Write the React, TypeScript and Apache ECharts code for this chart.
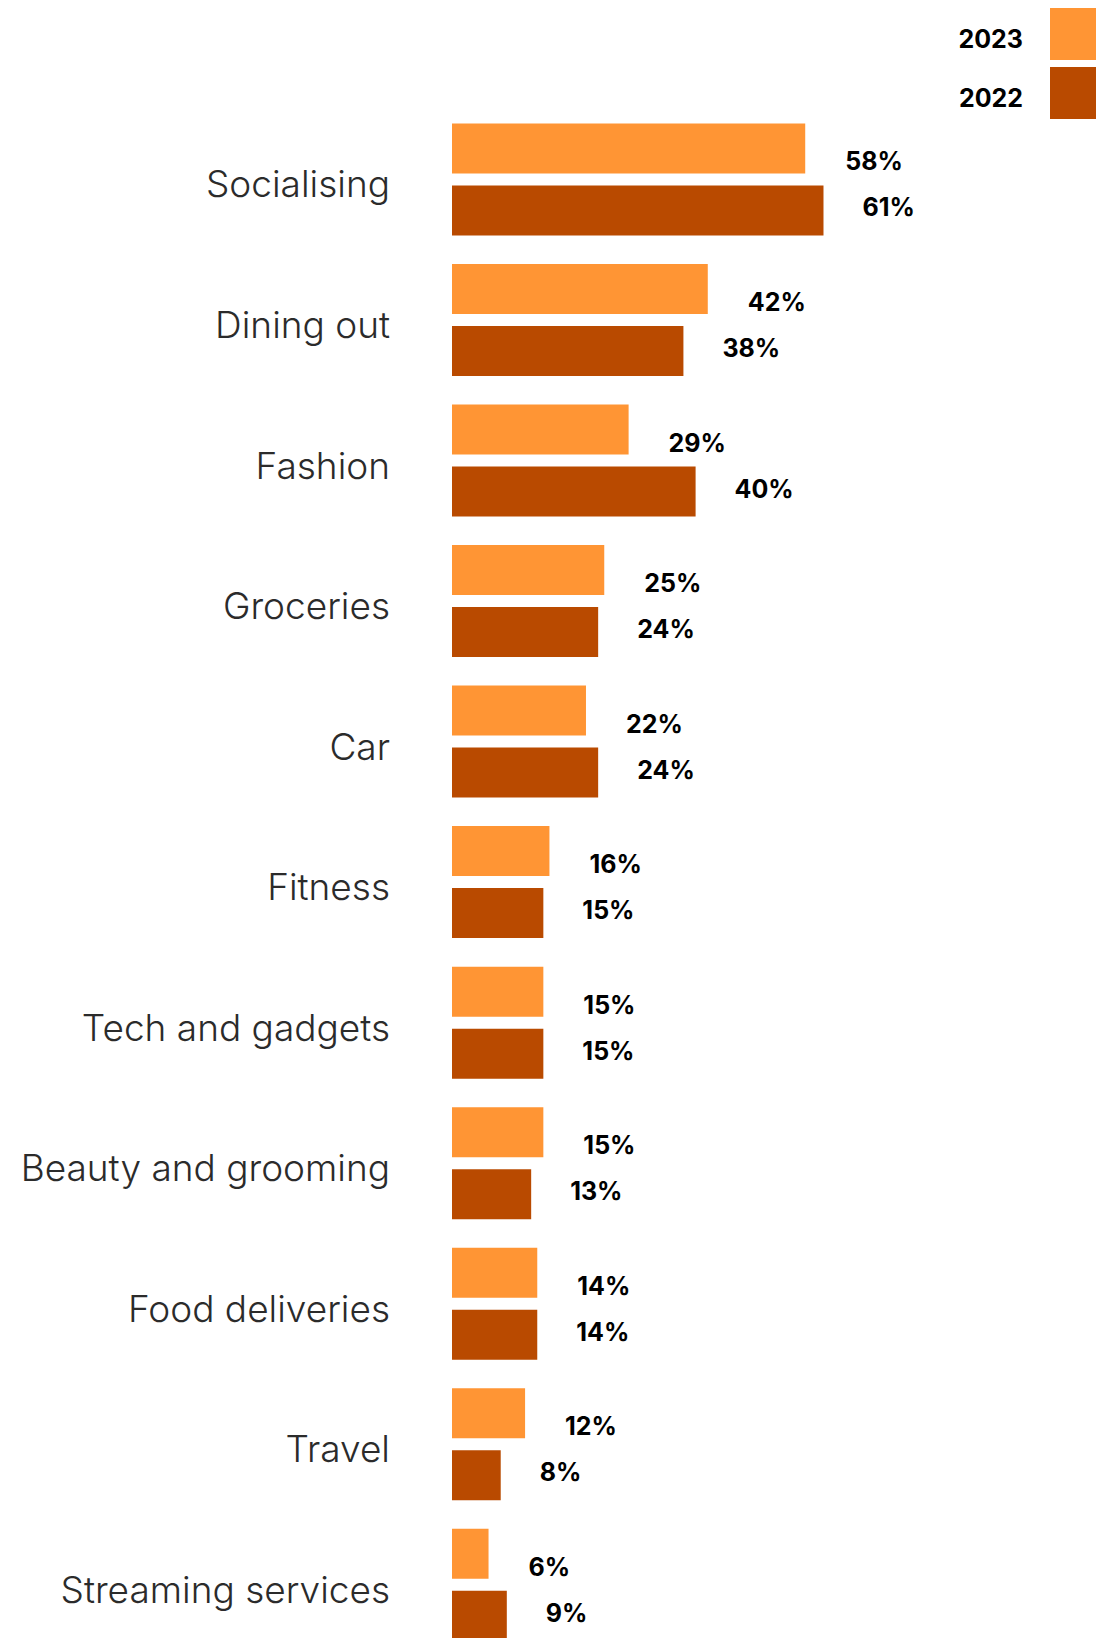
import React, { useEffect, useRef } from "react";
import * as echarts from "echarts";

const categories = [
  "Socialising",
  "Dining out",
  "Fashion",
  "Groceries",
  "Car",
  "Fitness",
  "Tech and gadgets",
  "Beauty and grooming",
  "Food deliveries",
  "Travel",
  "Streaming services",
];
const values2023 = [58, 42, 29, 25, 22, 16, 15, 15, 14, 12, 6];
const values2022 = [61, 38, 40, 24, 24, 15, 15, 13, 14, 8, 9];
const seriesNames = ["2023", "2022"];
const colors = ["#FF9534", "#B94A00"];

export default function App() {
  const ref = useRef<HTMLDivElement>(null);
  useEffect(() => {
    if (!ref.current) return;
    const chart = echarts.init(ref.current, null, { renderer: "svg" });
    const labelBase = {
      show: true,
      position: "right",
      fontFamily: "Inter",
      fontWeight: 700,
      fontSize: 25,
      color: "#000",
      formatter: "{c}%",
    };
    const catFont =
      "'Inter Light', 'Inter ExtraLight', 'Noto Sans Light', 'Open Sans Light', 'Lato Light', 'Roboto Light', Inter";
    chart.setOption({
      animation: false,
      backgroundColor: "#fff",
      legend: {
        data: seriesNames,
        orient: "vertical",
        right: -11,
        top: 3,
        align: "right",
        itemWidth: 52,
        itemHeight: 52,
        itemGap: 7,
        icon: "rect",
        selectedMode: false,
        formatter: "{t|{name}}",
        textStyle: {
          fontFamily: "Inter",
          fontWeight: 700,
          fontSize: 25,
          color: "#000",
          padding: [0, 22, 0, 0],
          rich: {
            t: {
              fontFamily: "Inter",
              fontWeight: 700,
              fontSize: 25,
              color: "#000",
              padding: [9, 0, 0, 0],
            },
          },
        },
      },
      grid: { left: 452, right: 35, top: 109.2, bottom: 0, containLabel: false },
      xAxis: {
        type: "value",
        min: 0,
        max: 100,
        show: false,
        splitLine: { show: false },
      },
      yAxis: {
        type: "category",
        data: categories,
        inverse: true,
        axisLine: { show: false },
        axisTick: { show: false },
        axisLabel: {
          margin: 62,
          fontFamily: catFont,
          fontWeight: 300,
          fontSize: 37,
          color: "#2b2b2b",
          formatter: "{a|{value}}",
          rich: {
            a: {
              fontFamily: catFont,
              fontWeight: 300,
              fontSize: 37,
              color: "#2b2b2b",
              padding: [9, 0, 0, 0],
            },
          },
        },
      },
      series: [
        {
          name: seriesNames[0],
          type: "bar",
          data: values2023,
          barWidth: 50,
          barGap: "24%",
          itemStyle: { color: colors[0] },
          label: { ...labelBase, distance: 40, offset: [0, 13] },
        },
        {
          name: seriesNames[1],
          type: "bar",
          data: values2022,
          barWidth: 50,
          barGap: "24%",
          itemStyle: { color: colors[1] },
          label: { ...labelBase, distance: 39, offset: [0, -3] },
        },
      ],
    });
    return () => chart.dispose();
  }, []);
  return (
    <div
      style={{
        position: "absolute",
        left: 0,
        top: 0,
        width: 1096,
        height: 1638,
        overflow: "hidden",
      }}
    >
      <div ref={ref} style={{ width: 1096, height: 1655.4 }} />
    </div>
  );
}
